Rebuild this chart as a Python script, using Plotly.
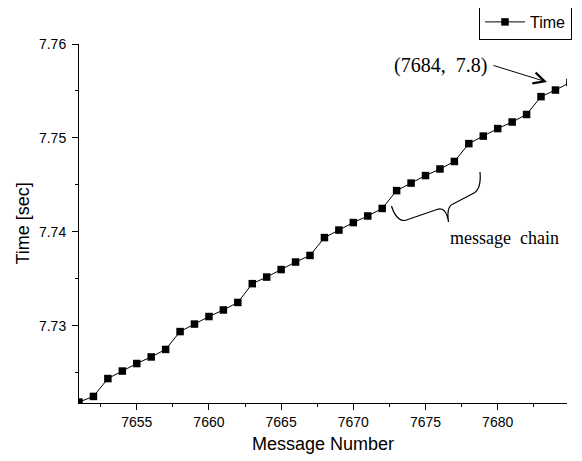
import plotly.graph_objects as go

# ---- data ----
message_number = [7651, 7652, 7653, 7654, 7655, 7656, 7657, 7658, 7659, 7660,
                  7661, 7662, 7663, 7664, 7665, 7666, 7667, 7668, 7669, 7670,
                  7671, 7672, 7673, 7674, 7675, 7676, 7677, 7678, 7679, 7680,
                  7681, 7682, 7683, 7684, 7685]
time_sec = [7.7219, 7.7225, 7.7244, 7.7252, 7.7260, 7.7267, 7.7275, 7.7294, 7.7302, 7.7310,
            7.7317, 7.7325, 7.7345, 7.7352, 7.7360, 7.7368, 7.7375, 7.7394, 7.7402, 7.7410,
            7.7417, 7.7425, 7.7444, 7.7452, 7.7460, 7.7467, 7.7475, 7.7494, 7.7502, 7.7510,
            7.7517, 7.7525, 7.7544, 7.7551, 7.7559]
x_tickvals = [7655, 7660, 7665, 7670, 7675, 7680]
y_tickvals = [7.73, 7.74, 7.75, 7.76]
y_ticktext = ["7.73", "7.74", "7.75", "7.76"]

PAGE_W, PAGE_H = 582, 461
OFF = 8                          # default page margin of the html body
W, H = PAGE_W - OFF, PAGE_H - OFF
L, R, T, B = 79, 567, 44, 403    # plot area in page pixels


def px(xp):
    return (xp - L) / (R - L)


def py(yp):
    return (B - yp) / (B - T)


SANS = "Liberation Sans, Arial, sans-serif"
SERIF = "Liberation Serif, Times New Roman, serif"

fig = go.Figure()
fig.add_trace(go.Scatter(
    x=message_number, y=time_sec, name="Time", mode="lines+markers",
    line=dict(color="black", width=1),
    marker=dict(symbol="square", size=7.5, color="black"),
))

# curly brace ("message chain") drawn as an SVG path in paper coordinates
pts = [
    ("M", [(391.5, 206)]),
    ("C", [(394, 214), (398, 221), (405, 220.5)]),
    ("L", [(437, 209.5)]),
    ("C", [(444, 207), (447, 213), (448.5, 222)]),
    ("C", [(447, 212), (448, 206), (453, 204)]),
    ("L", [(474, 193)]),
    ("C", [(479, 190), (481, 183), (480, 172)]),
]
path = " ".join(cmd + " " + " ".join(f"{px(a):.5f},{py(b):.5f}" for a, b in p) for cmd, p in pts)

fig.update_layout(
    width=W, height=H,
    margin=dict(l=L - OFF, r=PAGE_W - R, t=T - OFF, b=PAGE_H - B, autoexpand=False),
    paper_bgcolor="white", plot_bgcolor="white",
    font=dict(family=SANS, color="black", size=14),
    showlegend=True,
    legend=dict(x=px(479), y=py(4), xanchor="left", yanchor="top", itemwidth=40,
                bordercolor="black", borderwidth=1, bgcolor="white",
                font=dict(family=SANS, size=16, color="black")),
    xaxis=dict(range=[7651, 7684.8], tickvals=x_tickvals, ticks="outside", ticklen=6,
               tickwidth=1, tickcolor="black", showline=True, linecolor="black", linewidth=1,
               showgrid=False, zeroline=False, automargin=False,
               minor=dict(dtick=2.5, tick0=7650, ticks="outside", ticklen=3, tickcolor="black"),
               tickfont=dict(family=SANS, size=14)),
    yaxis=dict(range=[7.7218, 7.76], tickvals=y_tickvals, ticktext=y_ticktext, ticks="outside",
               ticklen=6, tickwidth=1, tickcolor="black", showline=True, linecolor="black",
               linewidth=1, showgrid=False, zeroline=False, automargin=False,
               ticklabelstandoff=3,
               minor=dict(dtick=0.005, tick0=7.72, ticks="outside", ticklen=3, tickcolor="black"),
               tickfont=dict(family=SANS, size=14)),
    shapes=[dict(type="path", path=path, xref="paper", yref="paper",
                 line=dict(color="black", width=1.2))],
    annotations=[
        dict(text="Message Number", xref="paper", yref="paper", x=0.5, y=py(444),
             showarrow=False, font=dict(family=SANS, size=18, color="black"),
             xanchor="center", yanchor="middle"),
        dict(text="Time [sec]", xref="paper", yref="paper", x=px(22), y=0.5, textangle=-90,
             showarrow=False, font=dict(family=SANS, size=18, color="black"),
             xanchor="center", yanchor="middle"),
        dict(text="(7684,\u00a0\u00a07.8)", xref="paper", yref="paper", x=px(440), y=py(65),
             showarrow=False, font=dict(family=SERIF, size=20, color="black"),
             xanchor="center", yanchor="middle"),
        dict(text="", xref="paper", yref="paper", x=px(547), y=py(82), showarrow=True,
             ax=-55, ay=-17, arrowhead=5, arrowsize=2.2, arrowwidth=1, arrowcolor="black"),
        dict(text="message\u00a0\u00a0chain", xref="paper", yref="paper", x=px(504), y=py(238),
             showarrow=False, font=dict(family=SERIF, size=18, color="black"),
             xanchor="center", yanchor="middle"),
    ],
)

fig.write_html("out.html")
